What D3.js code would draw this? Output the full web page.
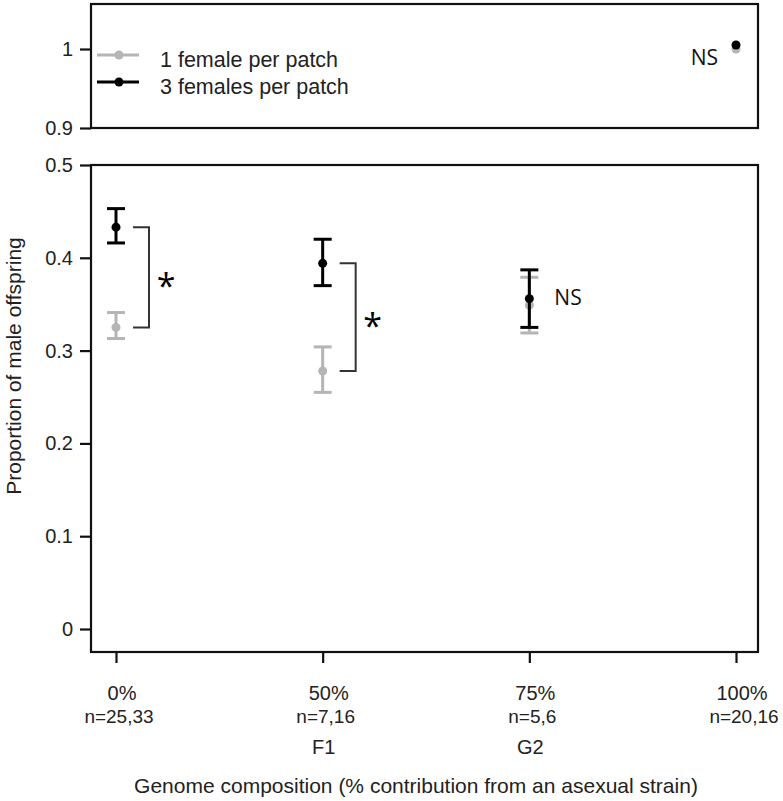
<!DOCTYPE html>
<html>
<head>
<meta charset="utf-8">
<script src="https://cdn.jsdelivr.net/npm/d3@7"></script>
<style>
  body { margin: 0; background: #fff; }
  svg { display: block; font-family: "Liberation Sans", Arial, sans-serif; }
</style>
</head>
<body>
<svg id="chart" width="783" height="801"></svg>
<script>
// ======================
// Dades
// ======================
const categories = ["0%", "50%", "75%", "100%"];
const sampleSizes = ["n=25,33", "n=7,16", "n=5,6", "n=20,16"];
const generations = ["", "F1", "G2", ""];

// 1 female per patch (gris)
const oneFemaleMean = [0.325, 0.278, 0.349, 1.000];
const oneFemaleLow  = [0.313, 0.255, 0.319, null];
const oneFemaleHigh = [0.341, 0.304, 0.379, null];

// 3 females per patch (negre)
const threeFemaleMean = [0.433, 0.394, 0.356, 1.005];
const threeFemaleLow  = [0.416, 0.370, 0.325, null];
const threeFemaleHigh = [0.453, 0.420, 0.387, null];

const lowerTicks = [0, 0.1, 0.2, 0.3, 0.4, 0.5];
const upperTicks = [0.9, 1];

const sigLabels = ["*", "*", "NS", "NS"];
const seriesNames = ["1 female per patch", "3 females per patch"];

const GRAY = "#b5b5b5";
const BLACK = "#000";
const TEXT = "#222";

// ======================
// Escales
// ======================
const svg = d3.select("#chart");
const left = 91, right = 758;

const x = d3.scalePoint().domain(categories).range([116, 736]).padding(0);

const yLow = d3.scaleLinear().domain([0, 0.5]).range([629, 165]);
const yTop = d3.scaleLinear().domain([0.9, 1]).range([128, 49]);

const lowBox = { top: yLow(0.5), bottom: 652 };
const topBox = { top: 4, bottom: yTop(0.9) };

// ======================
// Panells
// ======================
[topBox, lowBox].forEach(b => {
  svg.append("rect")
    .attr("x", left)
    .attr("y", b.top)
    .attr("width", right - left)
    .attr("height", b.bottom - b.top)
    .attr("fill", "none")
    .attr("stroke", "#111")
    .attr("stroke-width", 2.2);
});

function yAxis(scale, ticks) {
  const g = svg.append("g").attr("transform", `translate(${left},0)`)
    .call(d3.axisLeft(scale).tickValues(ticks).tickSize(11).tickPadding(7)
      .tickFormat(d3.format("~g")));
  g.select(".domain").remove();
  g.selectAll(".tick line").attr("stroke", "#111").attr("stroke-width", 2.2);
  g.selectAll(".tick text")
    .style("font-size", "20px")
    .style("font-family", "'Liberation Sans', Arial, sans-serif")
    .attr("fill", TEXT);
  return g;
}
yAxis(yLow, lowerTicks);
yAxis(yTop, upperTicks);

// eix X: només marques
const xAxisG = svg.append("g").attr("transform", `translate(0,${lowBox.bottom})`)
  .call(d3.axisBottom(x).tickSize(11).tickFormat(""));
xAxisG.select(".domain").remove();
xAxisG.selectAll(".tick line").attr("stroke", "#111").attr("stroke-width", 2.2);

categories.forEach((c, i) => {
  svg.append("text")
    .attr("x", x(c) + 6)
    .attr("y", 700)
    .attr("text-anchor", "middle")
    .style("font-size", "20px")
    .attr("fill", TEXT)
    .text(c);
  svg.append("text")
    .attr("x", x(c) + (i === 3 ? 8 : 3))
    .attr("y", 723)
    .attr("text-anchor", "middle")
    .style("font-size", "19px")
    .attr("fill", TEXT)
    .text(sampleSizes[i]);
  if (generations[i]) {
    svg.append("text")
      .attr("x", x(c) + 1)
      .attr("y", 754)
      .attr("text-anchor", "middle")
      .style("font-size", "20px")
      .attr("fill", TEXT)
      .text(generations[i]);
  }
});

svg.append("text")
  .attr("x", 416)
  .attr("y", 793)
  .attr("text-anchor", "middle")
  .style("font-size", "21px")
  .attr("fill", TEXT)
  .text("Genome composition (% contribution from an asexual strain)");

svg.append("text")
  .attr("transform", `translate(21, 366) rotate(-90)`)
  .attr("text-anchor", "middle")
  .style("font-size", "21px")
  .attr("fill", TEXT)
  .text("Proportion of male offspring");

// ======================
// Punts i barres d'error
// ======================
function drawSeries(mean, lo, hi, color) {
  mean.forEach((m, i) => {
    const scale = m > 0.8 ? yTop : yLow;
    const cx = x(categories[i]);
    if (lo[i] != null) {
      svg.append("line")
        .attr("x1", cx).attr("x2", cx)
        .attr("y1", scale(lo[i])).attr("y2", scale(hi[i]))
        .attr("stroke", color).attr("stroke-width", 3);
      [lo[i], hi[i]].forEach(v => {
        svg.append("line")
          .attr("x1", cx - 9).attr("x2", cx + 9)
          .attr("y1", scale(v)).attr("y2", scale(v))
          .attr("stroke", color).attr("stroke-width", 3);
      });
    }
    svg.append("circle")
      .attr("cx", cx).attr("cy", scale(m))
      .attr("r", 4.5)
      .attr("fill", color);
  });
}
drawSeries(oneFemaleMean, oneFemaleLow, oneFemaleHigh, GRAY);
drawSeries(threeFemaleMean, threeFemaleLow, threeFemaleHigh, BLACK);

// ======================
// Significació
// ======================
[0, 1].forEach(i => {
  const cx = x(categories[i]);
  const yA = yLow(threeFemaleMean[i]);
  const yB = yLow(oneFemaleMean[i]);
  const bx = cx + 33;
  svg.append("path")
    .attr("d", `M${cx + 17},${yA} H${bx} V${yB} H${cx + 17}`)
    .attr("fill", "none")
    .attr("stroke", "#333")
    .attr("stroke-width", 2);
  svg.append("text")
    .attr("x", bx + 17)
    .attr("y", (yA + yB) / 2 + 21)
    .attr("text-anchor", "middle")
    .style("font-family", "'Open Sans', sans-serif")
    .style("font-size", "34px")
    .attr("fill", "#000")
    .text(sigLabels[i]);
});

svg.append("text")
  .attr("x", x(categories[2]) + 25)
  .attr("y", 305)
  .style("font-family", "'Open Sans', sans-serif")
  .style("font-size", "21px")
  .attr("fill", "#111")
  .text(sigLabels[2]);

svg.append("text")
  .attr("x", 718)
  .attr("y", 65)
  .attr("text-anchor", "end")
  .style("font-family", "'Open Sans', sans-serif")
  .style("font-size", "21px")
  .attr("fill", "#111")
  .text(sigLabels[3]);

// ======================
// Llegenda
// ======================
const legendY = [55, 82];
seriesNames.forEach((name, i) => {
  const color = i === 0 ? GRAY : BLACK;
  const g = svg.append("g").attr("transform", `translate(97, ${legendY[i]})`);
  g.append("line")
    .attr("x1", 0).attr("x2", 42)
    .attr("stroke", color).attr("stroke-width", 3);
  g.append("circle").attr("cx", 22).attr("r", 4.5).attr("fill", color);
  g.append("text")
    .attr("x", 63)
    .attr("y", 12)
    .style("font-size", "21.5px")
    .attr("fill", TEXT)
    .text(name);
});
</script>
</body>
</html>
